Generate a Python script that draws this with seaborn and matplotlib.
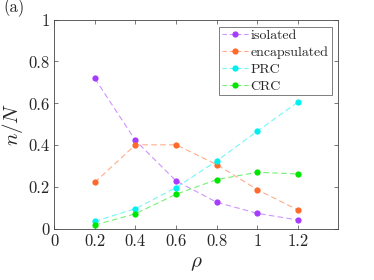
import matplotlib.pyplot as plt
import matplotlib.colors as mcolors
import numpy as np
import pandas as pd
import seaborn as sns

# values
rho = [0.2, 0.4, 0.6, 0.8, 1.0, 1.2]
isolated = [0.719, 0.423, 0.230, 0.128, 0.075, 0.043]
encapsulated = [0.223, 0.402, 0.402, 0.308, 0.188, 0.091]
prc = [0.037, 0.097, 0.198, 0.325, 0.467, 0.606]
crc = [0.019, 0.073, 0.166, 0.236, 0.271, 0.263]

series_names = ["isolated", "encapsulated", "PRC", "CRC"]
colors = ["#a63cff", "#ff6a2a", "#00f0f0", "#00e600"]
xticks = [0, 0.2, 0.4, 0.6, 0.8, 1, 1.2]
yticks = [0, 0.2, 0.4, 0.6, 0.8, 1]

df = pd.DataFrame({"rho": rho, "isolated": isolated, "encapsulated": encapsulated,
                   "PRC": prc, "CRC": crc})
df = df.melt(id_vars="rho", var_name="kind", value_name="frac")

sns.set_style("ticks")
plt.rcParams["font.family"] = "cmr10"
plt.rcParams["mathtext.fontset"] = "cm"
plt.rcParams["axes.formatter.use_mathtext"] = True

fig, ax = plt.subplots(figsize=(3.74, 2.8), dpi=100)
fig.subplots_adjust(left=0.145, right=0.905, top=0.93, bottom=0.182)

sns.lineplot(data=df, x="rho", y="frac", hue="kind", hue_order=series_names,
             palette=colors, marker="o", markersize=4.5, markeredgewidth=0,
             linewidth=0.8, ax=ax)


def restyle(line, c):
    # faded dashed line, solid marker
    line.set_linestyle((0, (5, 3)))
    line.set_color(mcolors.to_rgba(c, 0.55))
    line.set_markerfacecolor(mcolors.to_rgba(c, 1))
    line.set_markeredgecolor(mcolors.to_rgba(c, 1))


for line, c in zip(ax.get_lines(), colors):
    restyle(line, c)

ax.set_xlim(0, 1.4)
ax.set_ylim(0, 1)
ax.set_xticks(xticks)
ax.set_xticklabels(["0", "0.2", "0.4", "0.6", "0.8", "1", "1.2"])
ax.set_yticks(yticks)
ax.set_yticklabels(["0", "0.2", "0.4", "0.6", "0.8", "1"])
ax.tick_params(direction="in", top=True, right=True, length=3, width=0.5,
               labelsize=12, color="#444444")
for s in ax.spines.values():
    s.set_linewidth(0.6)
    s.set_color("#444444")

ax.set_xlabel(r"$\rho$", fontsize=15)
ax.set_ylabel(r"$n/N$", fontsize=15, labelpad=2)

leg = ax.legend(loc="upper right", fontsize=10, frameon=True, fancybox=False,
                handlelength=1.9, handletextpad=0.15, borderpad=0.2,
                labelspacing=0.3, borderaxespad=0.5)
for line, c in zip(leg.get_lines(), colors):
    restyle(line, c)
    line.set_linestyle((0, (4, 2.5)))
leg.get_frame().set_edgecolor("#444444")
leg.get_frame().set_linewidth(0.6)

fig.text(0.01, 0.955, "(a)", fontsize=12)

plt.savefig("out.png", dpi=100)
